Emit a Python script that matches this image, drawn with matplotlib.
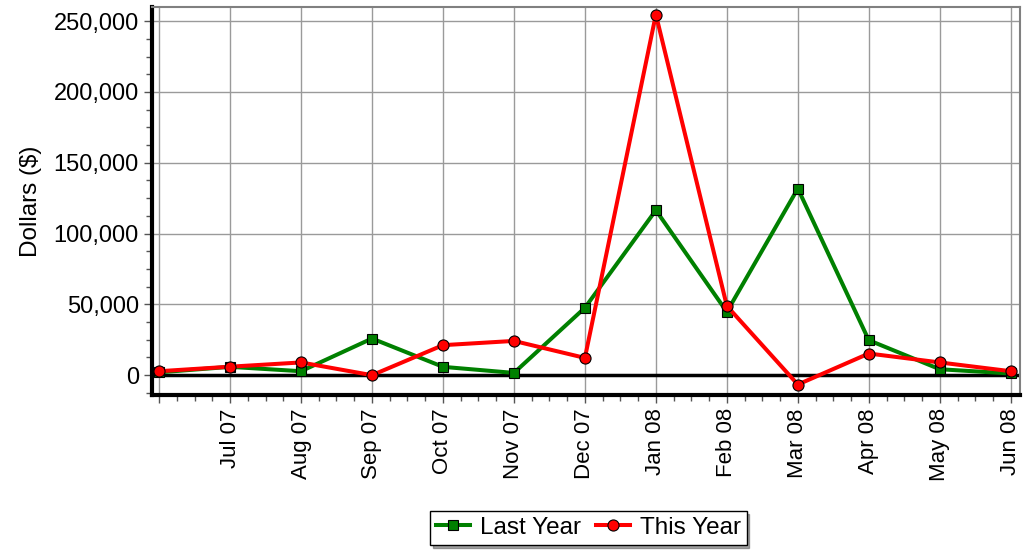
import matplotlib
matplotlib.use("Agg")
import matplotlib.pyplot as plt
from matplotlib.ticker import FuncFormatter, MultipleLocator, AutoMinorLocator

plt.rcParams["font.family"] = ["Liberation Sans", "DejaVu Sans"]

months = ["", "Jul 07", "Aug 07", "Sep 07", "Oct 07", "Nov 07", "Dec 07",
          "Jan 08", "Feb 08", "Mar 08", "Apr 08", "May 08", "Jun 08"]
last_year = [2000, 5900, 2800, 25900, 5900, 1600, 47600,
             116500, 44700, 131800, 24700, 4200, 1200]
this_year = [2800, 6000, 9000, 0, 21200, 24200, 12200,
             254700, 48900, -6600, 15300, 9000, 2800]

fig = plt.figure(figsize=(10.31, 5.52), dpi=100)
ax = fig.add_axes([0.1474, 0.2844, 0.8419, 0.7029])

x = list(range(len(months)))
ax.plot(x, last_year, color="#008000", linewidth=2.9, marker="s", markersize=7.5,
        markerfacecolor="#008000", markeredgecolor="black", markeredgewidth=0.8,
        label="Last Year", zorder=3)
ax.plot(x, this_year, color="#ff0000", linewidth=2.9, marker="o", markersize=8,
        markerfacecolor="#ff0000", markeredgecolor="black", markeredgewidth=0.8,
        label="This Year", zorder=4)

ax.axhline(0, color="black", linewidth=2.5, zorder=2)

ax.set_xlim(-0.1, 12.13)
ax.set_ylim(-14000, 260000)
ax.set_xticks(x)
ax.set_xticklabels(months, rotation=90, fontsize=16)
ax.xaxis.set_minor_locator(AutoMinorLocator(4))
ax.yaxis.set_major_locator(MultipleLocator(50000))
ax.yaxis.set_minor_locator(MultipleLocator(12500))
ax.yaxis.set_major_formatter(FuncFormatter(lambda v, p: f"{int(v):,}"))
ax.tick_params(axis="y", labelsize=17)
ax.tick_params(which="major", length=6, width=1, color="#555555")
ax.tick_params(which="minor", length=4, width=1, color="#555555")

ax.grid(True, which="major", color="#9a9a9a", linewidth=1)
ax.set_axisbelow(True)

for side in ("left", "bottom"):
    ax.spines[side].set_linewidth(3)
    ax.spines[side].set_color("black")
for side in ("top", "right"):
    ax.spines[side].set_linewidth(1.5)
    ax.spines[side].set_color("#808080")

ax.set_ylabel("Dollars ($)", fontsize=17.5)
ax.yaxis.set_label_coords(-0.127, 0.5)

leg = fig.legend(loc="center", bbox_to_anchor=(0.5708, 0.0435), ncol=2,
                 fontsize=17.5, frameon=True, fancybox=False, shadow=True,
                 handlelength=1.4, handletextpad=0.4, columnspacing=0.6,
                 borderpad=0.25)
leg.get_frame().set_edgecolor("black")
leg.get_frame().set_linewidth(1)

fig.savefig("out.png", dpi=100)
